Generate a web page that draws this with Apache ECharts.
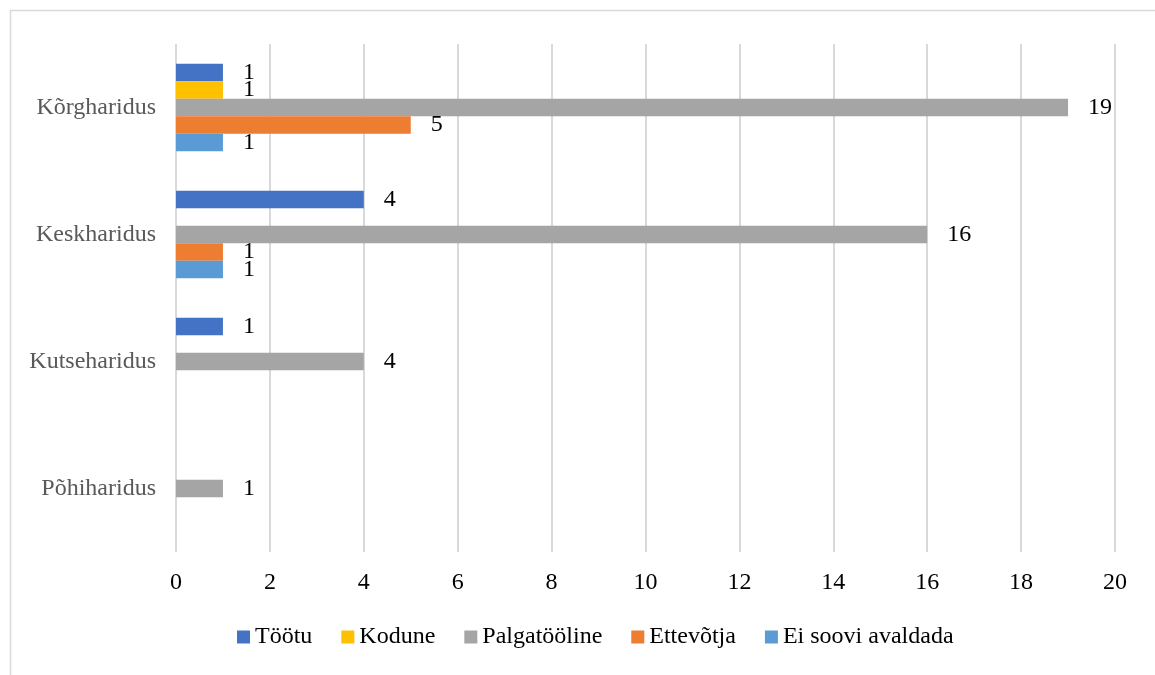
<!DOCTYPE html>
<html>
<head>
<meta charset="utf-8">
<script src="https://cdn.jsdelivr.net/npm/echarts@6/dist/echarts.min.js"></script>
<style>
  html, body { margin: 0; padding: 0; background: #fff; }
  #chart { width: 1155px; height: 675px; }
</style>
</head>
<body>
<div id="chart"></div>
<script>
// kategooriad alt üles
var categories = ['Põhiharidus', 'Kutseharidus', 'Keskharidus', 'Kõrgharidus'];
var seriesNames = ['Töötu', 'Kodune', 'Palgatööline', 'Ettevõtja', 'Ei soovi avaldada'];
var tootu = [null, 1, 4, 1];
var kodune = [null, null, null, 1];
var palgatooline = [1, 4, 16, 19];
var ettevotja = [null, null, 1, 5];
var eiSoovi = [null, null, 1, 1];
var xTicks = [0, 2, 4, 6, 8, 10, 12, 14, 16, 18, 20];

var colors = ['#4472C4', '#FFC000', '#A5A5A5', '#ED7D31', '#5B9BD5'];
var font = '"Liberation Serif", "Times New Roman", serif';
var values = [tootu, kodune, palgatooline, ettevotja, eiSoovi];

var series = [];
for (var i = 0; i < seriesNames.length; i++) {
    series.push({
        name: seriesNames[i],
        type: 'bar',
        data: values[i],
        barGap: '0%',
        barCategoryGap: '31%',
        itemStyle: { color: colors[i] },
        label: {
            show: true,
            position: 'right',
            distance: 20,
            color: '#000',
            fontFamily: font,
            fontSize: 24,
            padding: [3, 0, 0, 0]
        }
    });
}

var chart = echarts.init(document.getElementById('chart'));
var option = {
    animation: false,
    color: colors,
    graphic: [{
        type: 'rect',
        left: 8,
        top: 8,
        shape: { width: 1300, height: 800 },
        style: { fill: 'none', stroke: '#d9d9d9', lineWidth: 1.5 },
        silent: true
    }],
    grid: { left: 176, right: 40, top: 44, bottom: 123 },
    legend: {
        data: seriesNames,
        left: 237,
        top: 625,
        padding: 0,
        itemWidth: 13,
        itemHeight: 13,
        itemGap: 29,
        icon: 'rect',
        textStyle: { color: '#000', fontFamily: font, fontSize: 24 }
    },
    xAxis: {
        type: 'value',
        min: xTicks[0],
        max: xTicks[xTicks.length - 1],
        interval: 2,
        axisLine: { show: false },
        axisTick: { show: false },
        splitLine: { lineStyle: { color: '#d9d9d9', width: 2 } },
        axisLabel: { color: '#000', fontFamily: font, fontSize: 24, margin: 19 }
    },
    yAxis: {
        type: 'category',
        data: categories,
        axisLine: { show: false },
        axisTick: { show: false },
        axisLabel: { color: '#595959', fontFamily: font, fontSize: 24, margin: 20, padding: [4, 0, 0, 0] }
    },
    series: series
};
chart.setOption(option);
</script>
</body>
</html>
